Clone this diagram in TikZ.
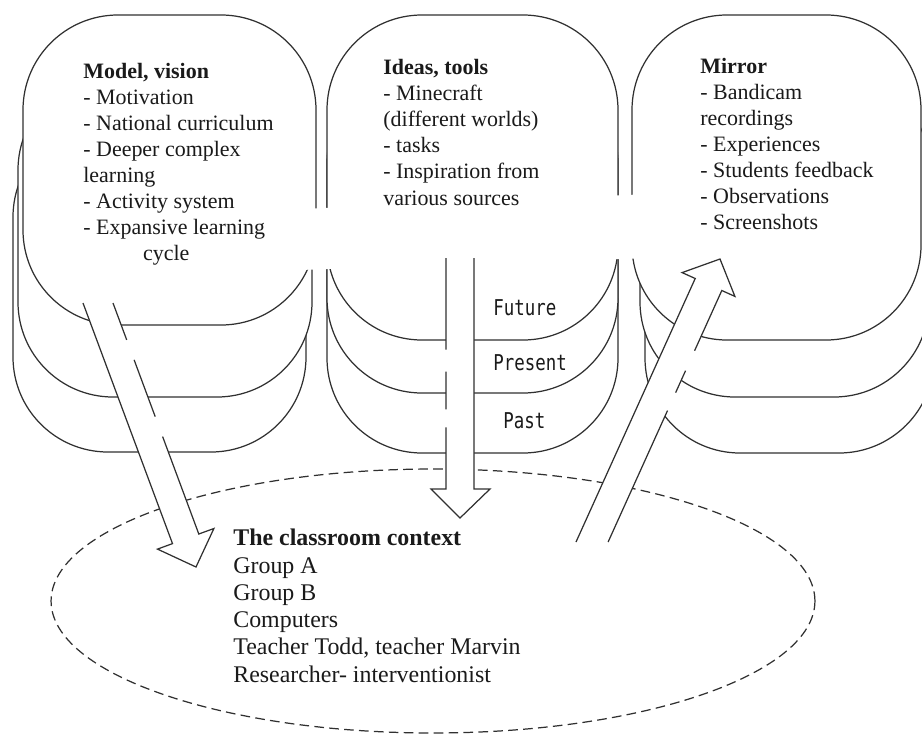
\documentclass[tikz,border=0pt]{standalone}
\usepackage{fontspec}
\setmainfont{Liberation Serif}
\newfontfamily\tickfont[FakeStretch=0.8]{DejaVu Sans Mono}
\usetikzlibrary{shapes.geometric}

\definecolor{ink}{HTML}{303030}
\definecolor{txt}{HTML}{1A1A1A}

\tikzset{
  card/.style={draw=ink, fill=white, line width=0.7pt, rounded corners=1.9cm,
    inner sep=0pt, outer sep=0pt},
  blockarrow/.style={draw=ink, fill=white, line width=0.7pt, line join=miter},
  % anchored at the baseline of the last line
  notes/.style={text=txt, inner sep=0pt, anchor=base west, align=left,
    font=\fontsize{12.5}{14.75}\selectfont},
  tick/.style={text=txt, inner sep=0pt, anchor=base west,
    font=\tickfont\fontsize{12.4}{14}\selectfont},
  context/.style={draw=ink, ellipse, line width=0.7pt, dash pattern=on 5.5pt off 3pt,
    inner sep=0pt, minimum width=15.28cm, minimum height=5.28cm}
}

% rounded card given by its corners: name, x1, y1, x2, y2
\newcommand\cardbox[5]{%
  \node[card, minimum width={(#4-#2)*0.02cm}, minimum height={(#5-#3)*0.02cm}]
    (#1) at ({(#2+#4)/2},{(#3+#5)/2}) {};}

\begin{document}
\begin{tikzpicture}[x=0.02cm, y=-0.02cm]
\useasboundingbox (0,0) rectangle (922,737);
\clip (0,0) rectangle (922,737);

% past layers
\cardbox{mvpast}{13}{122}{306}{452}
\cardbox{itpast}{327}{128}{618}{453}
\cardbox{mrpast}{645}{128}{934}{453}
% present layers
\cardbox{mvpres}{18}{75}{312}{397}
\cardbox{itpres}{327}{68}{618}{393}
\cardbox{mrpres}{640}{72}{929}{397}
% future layers
\cardbox{mvfut}{23}{15}{316}{325}
\cardbox{itfut}{327}{15}{618}{340}
\cardbox{mrfut}{632}{15}{921}{340}

% white band behind the middle text block
\fill[white] (300,209) -- (650,194) -- (650,258) -- (300,270) -- cycle;

% classroom context
\node[context] (ctx) at (433,601) {};

% model, vision -> classroom
\coordinate (la1) at (113,303);
\coordinate (la2) at (198.8,534.0);
\coordinate (la3) at (213.9,528.5);
\coordinate (la4) at (196,567);
\coordinate (la5) at (157.5,549.1);
\coordinate (la6) at (172.5,543.6);
\coordinate (la7) at (83,303);
\draw[blockarrow, dash pattern=on 22.4pt off 12.1pt on 34.5pt off 12.1pt on 2000pt]
  (la1) -- (la2) -- (la3) -- (la4) -- (la5) -- (la6) -- (la7);

% ideas, tools -> classroom
\coordinate (ma1) at (446,258);
\coordinate (ma2) at (446,489);
\coordinate (ma3) at (431,489);
\coordinate (ma4) at (460,518);
\coordinate (ma5) at (490,489);
\coordinate (ma6) at (474,489);
\coordinate (ma7) at (474,258);
\draw[blockarrow, dash pattern=on 52.2pt off 12.5pt on 21.5pt off 10.2pt on 2000pt]
  (ma1) -- (ma2) -- (ma3) -- (ma4) -- (ma5) -- (ma6) -- (ma7);

% classroom -> mirror
\coordinate (ra1) at (608.1,542);
\coordinate (ra2) at (721.8,290.5);
\coordinate (ra3) at (734.9,296.4);
\coordinate (ra4) at (720,259);
\coordinate (ra5) at (682.1,272.6);
\coordinate (ra6) at (695.2,278.5);
\coordinate (ra7) at (576,542);
\draw[blockarrow, dash pattern=on 82.1pt off 11.2pt on 13.7pt off 12.5pt on 2000pt]
  (ra1) -- (ra2) -- (ra3) -- (ra4) -- (ra5) -- (ra6) -- (ra7);

% texts
\node[notes] (mvtext) at (83,260) {\textbf{Model, vision}\\- Motivation\\- National curriculum\\- Deeper complex\\learning\\- Activity system\\- Expansive learning\\\hspace*{34pt}cycle};
\node[notes, font=\fontsize{12.5}{14.85}\selectfont] (ittext) at (383,205) {\textbf{Ideas, tools}\\- Minecraft\\(different worlds)\\- tasks\\- Inspiration from\\various sources};
\node[notes] (mrtext) at (700,229) {\textbf{Mirror}\\- Bandicam\\recordings\\- Experiences\\- Students feedback\\- Observations\\- Screenshots};
\node[notes, font=\fontsize{13.6}{15.5}\selectfont] (cltext) at (233,682) {\textbf{The classroom context}\\Group A\\Group B\\Computers\\Teacher Todd, teacher Marvin\\Researcher- interventionist};

\node[tick] (lfut) at (493,315) {Future};
\node[tick] (lpres) at (493,370) {Present};
\node[tick] (lpast) at (503,428) {Past};
\end{tikzpicture}
\end{document}
